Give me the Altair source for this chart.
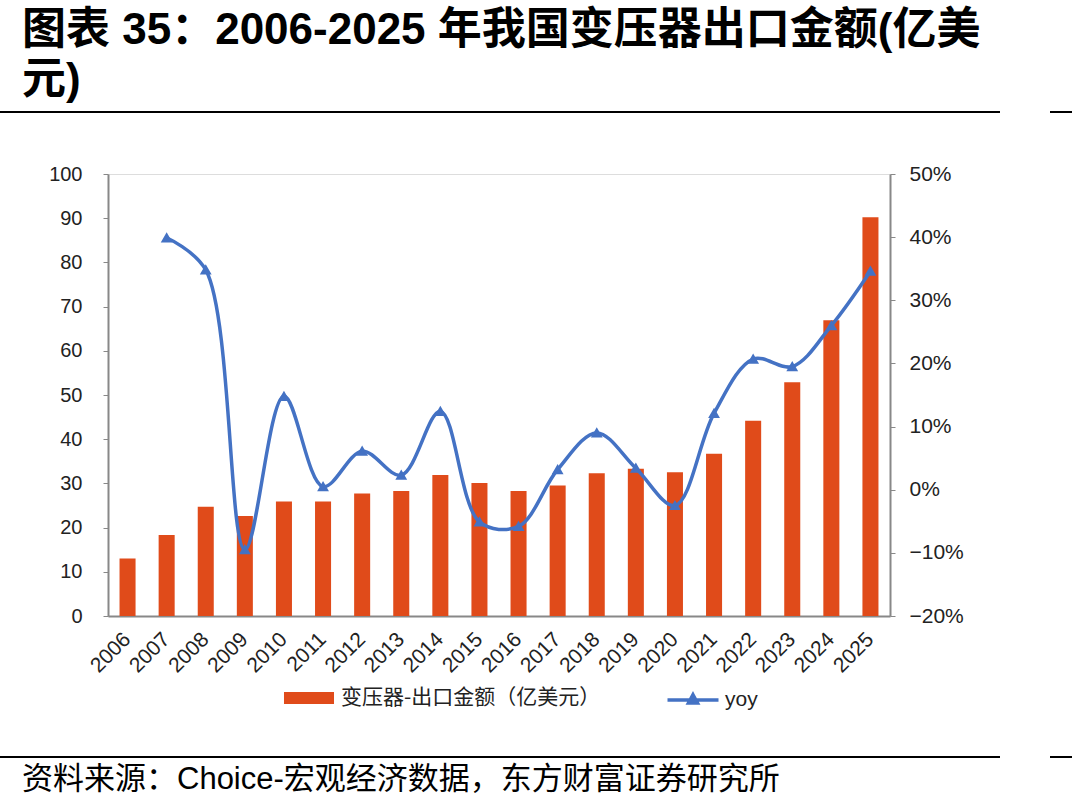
import altair as alt
import pandas as pd

years = [str(y) for y in range(2006, 2026)]
export_value = [13.0, 18.3, 24.7, 22.6, 25.9, 25.9, 27.7, 28.3, 31.9, 30.1,
                28.3, 29.5, 32.3, 33.3, 32.5, 36.7, 44.2, 52.9, 66.9, 90.2]
yoy_pct = [None, 39.9, 34.8, -9.5, 14.8, 0.5, 6.1, 2.3, 12.4, -5.1,
           -5.8, 3.2, 9.0, 3.4, -2.5, 12.1, 20.7, 19.5, 26.0, 34.6]

bar_name = "变压器-出口金额（亿美元）"
line_name = "yoy"
title_lines = ["图表 35：2006-2025 年我国变压器出口金额(亿美", "元)"]
source_text = "资料来源：Choice-宏观经济数据，东方财富证券研究所"

BAR_COLOR = "#E04B1A"
LINE_COLOR = "#4472C4"
FONT = "Liberation Sans, Noto Sans CJK SC"
CJK = "Noto Sans CJK SC"

W, H = 782, 442

df = pd.DataFrame({"year": years, "value": export_value, "yoy": yoy_pct})
df["bar_series"] = bar_name
df["line_series"] = line_name

base = alt.Chart(df)

x_enc = alt.X(
    "year:N", sort=years, title=None,
    scale=alt.Scale(paddingInner=0.59, paddingOuter=0.295),
    axis=alt.Axis(labelAngle=-45, labelAlign="right", labelBaseline="middle",
                  labelPadding=20, labelFontSize=21, labelFont=FONT, labelColor="#222",
                  ticks=False, domainColor="#888", domainWidth=2, labelOverlap=False),
)

bars = base.mark_bar().encode(
    x=x_enc,
    y=alt.Y("value:Q", title=None, scale=alt.Scale(domain=[0, 100], nice=False),
            axis=alt.Axis(values=list(range(0, 101, 10)), orient="left", grid=False,
                          labelFontSize=20, labelFont=FONT, labelColor="#222",
                          labelPadding=21, tickSize=5, tickColor="#888",
                          domainColor="#888", domainWidth=2)),
    color=alt.Color("bar_series:N", scale=alt.Scale(domain=[bar_name], range=[BAR_COLOR]),
                    legend=alt.Legend(title=None, orient="none", legendX=186, legendY=H + 67,
                                      symbolType="M-1.667,-0.4H1.667V0.4H-1.667Z", symbolSize=900,
                                      labelFontSize=21, labelFont=CJK, labelColor="#222",
                                      labelOffset=17, labelLimit=0, symbolStrokeWidth=0)),
)

line = base.transform_filter("isValid(datum.yoy)").transform_calculate(
    yoy_frac="datum.yoy / 100"
).mark_line(
    interpolate="catmull-rom", strokeWidth=3.5,
    point=alt.OverlayMarkDef(shape="triangle-up", filled=True, size=70, color=LINE_COLOR),
).encode(
    x=x_enc,
    y=alt.Y("yoy_frac:Q", title=None, scale=alt.Scale(domain=[-0.2, 0.5], nice=False),
            axis=alt.Axis(values=[-0.2, -0.1, 0, 0.1, 0.2, 0.3, 0.4, 0.5], format=".0%",
                          orient="right", grid=False, labelFontSize=21, labelFont=FONT,
                          labelColor="#222", labelPadding=14, tickSize=5, tickColor="#888",
                          domainColor="#888", domainWidth=2)),
    stroke=alt.Stroke("line_series:N", scale=alt.Scale(domain=[line_name], range=[LINE_COLOR]),
                      legend=alt.Legend(title=None, orient="none", legendX=568, legendY=H + 67,
                                        symbolType="M-1.7,0H1.7M0,-0.35L0.3,0.2L-0.3,0.2Z",
                                        symbolSize=900, symbolStrokeWidth=3.5,
                                        symbolFillColor=LINE_COLOR, symbolStrokeColor=LINE_COLOR,
                                        labelFontSize=21, labelFont=FONT, labelColor="#222",
                                        labelOffset=15, labelLimit=0)),
)

data_layer = alt.layer(bars, line).resolve_scale(y="independent", color="independent")

# decorations
title1 = alt.Chart(pd.DataFrame({"t": [title_lines[0]]})).mark_text(
    align="left", baseline="top", fontSize=44, fontWeight="bold", font=FONT, color="#000"
).encode(text="t:N", x=alt.value(-86), y=alt.value(-165))
title2 = alt.Chart(pd.DataFrame({"t": [title_lines[1]]})).mark_text(
    align="left", baseline="top", fontSize=44, fontWeight="bold", font=FONT, color="#000"
).encode(text="t:N", x=alt.value(-86), y=alt.value(-115))
source = alt.Chart(pd.DataFrame({"t": [source_text]})).mark_text(
    align="left", baseline="middle", fontSize=31, font=FONT, color="#000"
).encode(text="t:N", x=alt.value(-86), y=alt.value(606))

rule_df = pd.DataFrame({"k": [0]})
rules = []
for yv in [-62, 583]:
    rules.append(alt.Chart(rule_df).mark_rule(color="#000", strokeWidth=2, clip=False).encode(
        x=alt.value(-108), x2=alt.value(892), y=alt.value(yv)))
    rules.append(alt.Chart(rule_df).mark_rule(color="#000", strokeWidth=2, clip=False).encode(
        x=alt.value(942), x2=alt.value(964), y=alt.value(yv)))

chart = alt.layer(data_layer, title1, title2, source, *rules).properties(
    width=W, height=H,
    autosize=alt.AutoSizeParams(type="none"),
    padding={"left": 108, "top": 174, "right": 182, "bottom": 195},
).configure_view(stroke=None).configure(background="white")

chart.save("out.html", embed_options={"renderer": "svg", "actions": False})
